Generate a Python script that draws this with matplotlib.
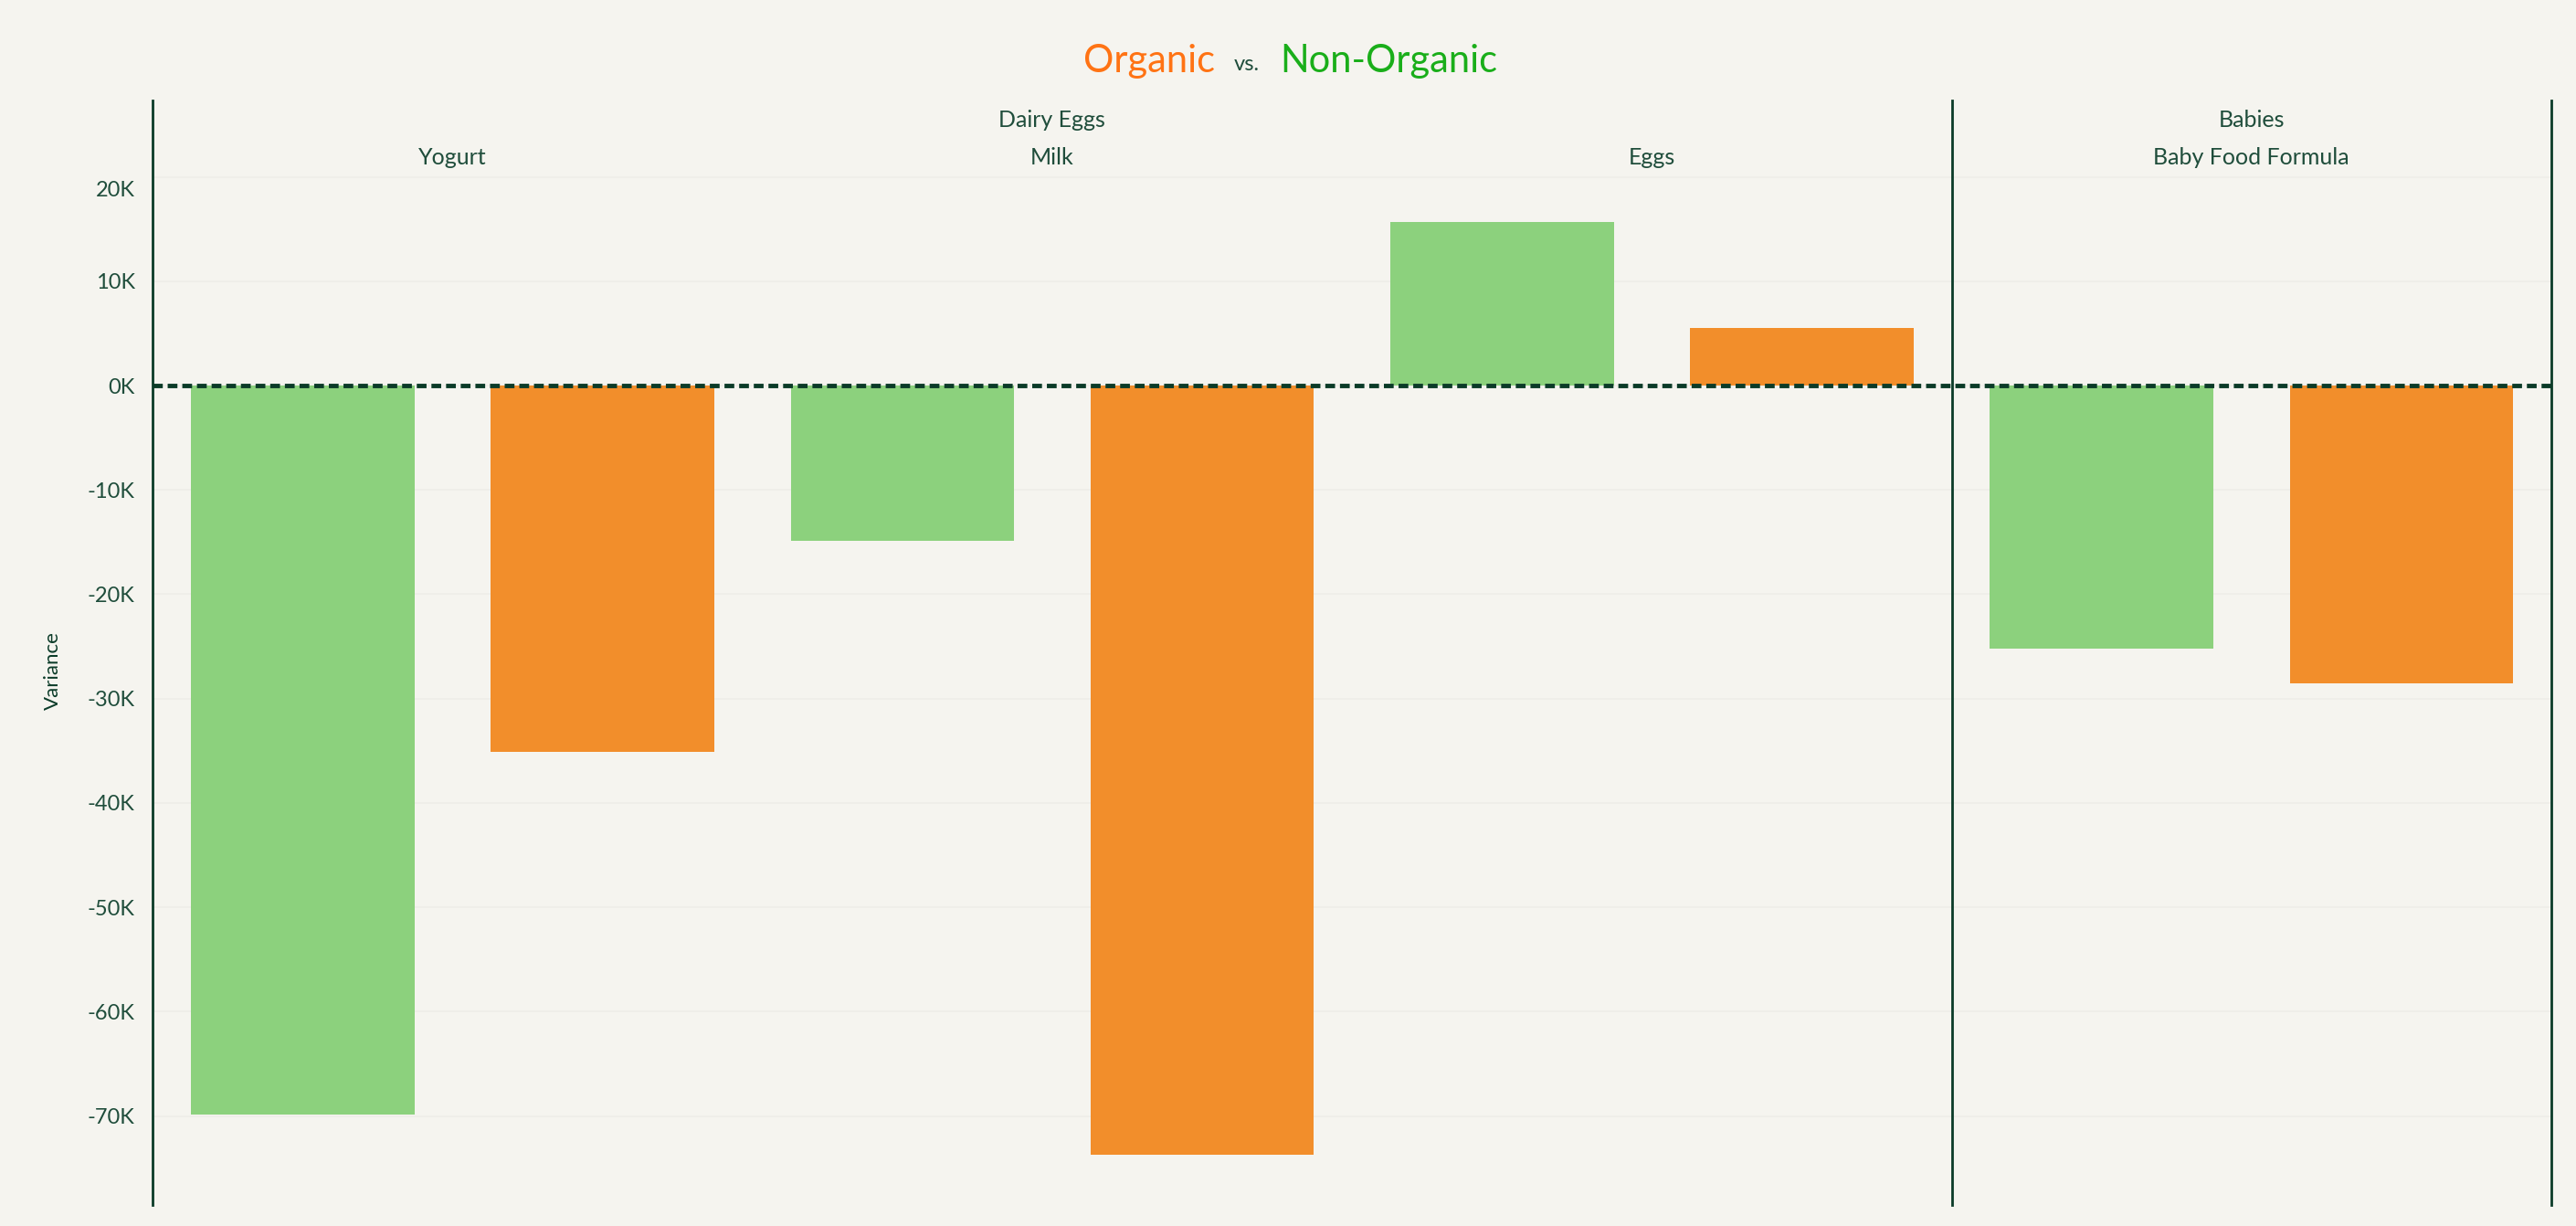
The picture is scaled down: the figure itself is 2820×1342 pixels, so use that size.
import numpy as np
import matplotlib.pyplot as plt
from matplotlib.lines import Line2D
from matplotlib.transforms import offset_copy

# data
categories = ["Dairy Eggs", "Dairy Eggs", "Dairy Eggs", "Babies"]
subcategories = ["Yogurt", "Milk", "Eggs", "Baby Food Formula"]
non_organic = [-69900, -14900, 15700, -25200]
organic = [-35100, -73700, 5500, -28500]
yticks = [20000, 10000, 0, -10000, -20000, -30000, -40000, -50000, -60000, -70000]
ytick_labels = ["20K", "10K", "0K", "-10K", "-20K", "-30K", "-40K", "-50K", "-60K", "-70K"]

bg = "#F5F4EF"
green = "#8CD17D"
orange = "#F28E2B"
ink = "#1F4D3B"
dark = "#0B3B28"

plt.rcParams['font.family'] = ['Lato', 'DejaVu Sans']

fig = plt.figure(figsize=(28.2, 13.42), dpi=100, facecolor=bg)
L, R, B, T = 93/1568, 1553/1568, 1 - 733/746, 1 - 107/746
ax = fig.add_axes([L, B, R - L, T - B], facecolor=bg)

n = len(subcategories)
x_green = np.arange(n) * 2
x_orange = x_green + 1
w = 0.745
ax.bar(x_green, non_organic, width=w, color=green, zorder=2)
ax.bar(x_orange, organic, width=w, color=orange, zorder=2)

ax.set_xlim(-0.5, 2 * n - 0.5)
ax.set_ylim(-78500, 20100)
ax.set_xticks([])
ax.set_yticks(yticks)
# the top label is drawn by hand a bit below its gridline, as Tableau does
ax.set_yticklabels([""] + ytick_labels[1:], fontsize=17, color=ink)
ax.tick_params(axis="y", length=0, pad=14)
tr = offset_copy(ax.get_yaxis_transform(), fig=fig, x=-14, y=-3, units="points")
ax.text(0, yticks[0], ytick_labels[0], transform=tr, ha="right", va="top",
        fontsize=17, color=ink)
ax.grid(axis="y", color="#EEEDE8", linewidth=1.2, zorder=0)
ax.axhline(0, color=dark, linewidth=3.5, linestyle=(0, (2.2, 1.1)), zorder=3)
for s in ax.spines.values():
    s.set_visible(False)

fig.text(32/1568, 1 - 408/746, "Variance", rotation=90, fontsize=16, color=dark,
         ha="center", va="center")

# pane borders: left, divider between categories, right
y_top = 1 - 61/746
to_fig = lambda xv: L + (xv + 0.5) / (2 * n) * (R - L)
cat_edges = [0]
for i in range(1, n):
    if categories[i] != categories[i - 1]:
        cat_edges.append(2 * i)
cat_edges.append(2 * n)
for e in cat_edges:
    fig.add_artist(Line2D([to_fig(e - 0.5)] * 2, [B, y_top], color=dark, linewidth=2))

# header rows
for j in range(len(cat_edges) - 1):
    a, b = cat_edges[j], cat_edges[j + 1]
    fig.text((to_fig(a - 0.5) + to_fig(b - 0.5)) / 2, 1 - 73/746, categories[a // 2],
             ha="center", va="center", fontsize=18, color=ink)
for i, sub in enumerate(subcategories):
    fig.text(to_fig(2 * i + 0.5), 1 - 96/746, sub, ha="center", va="center",
             fontsize=18, color=ink)

# title in three colours
fig.text(699.5/1568, 1 - 37/746, "Organic", color="#FF7314", fontsize=30,
         ha="center", va="center")
fig.text(759/1568, 1 - 39/746, "vs.", color=ink, fontsize=17, ha="center", va="center")
fig.text(845.5/1568, 1 - 37/746, "Non-Organic", color="#1AAE1A", fontsize=30,
         ha="center", va="center")

fig.savefig("out.png", dpi=100, facecolor=bg)
